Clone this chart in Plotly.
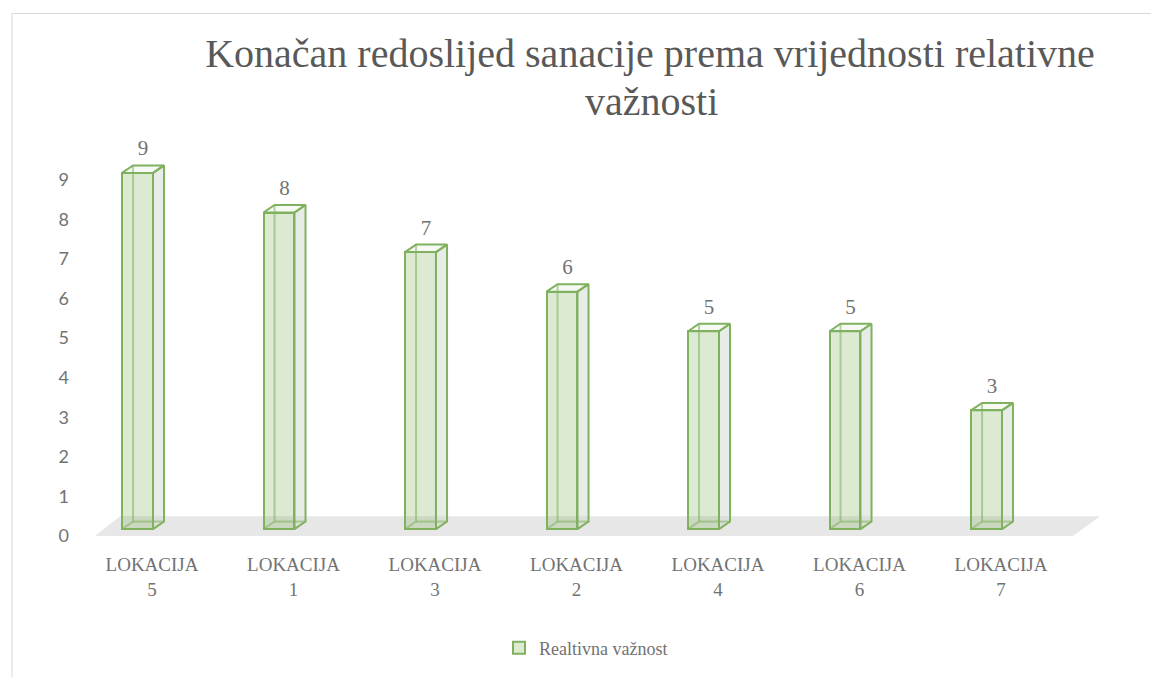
import plotly.graph_objects as go

# ---- data ----
categories = ["LOKACIJA<br>5", "LOKACIJA<br>1", "LOKACIJA<br>3", "LOKACIJA<br>2",
              "LOKACIJA<br>4", "LOKACIJA<br>6", "LOKACIJA<br>7"]
values = [9, 8, 7, 6, 5, 5, 3]
series_name = "Realtivna važnost"
y_ticks = [0, 1, 2, 3, 4, 5, 6, 7, 8, 9]
title_line1 = "Konačan redoslijed sanacije prema vrijednosti relativne"
title_line2 = "važnosti"

# ---- geometry (pseudo 3D) ----
positions = list(range(len(categories)))
BASE = 0.176      # front face base above floor front edge
WIDTH = 0.219     # front face width
OFF = -0.212      # front face left edge relative to slot
DX = 0.078        # depth in x
DY = 0.189        # depth in y
LABEL_GAP = 0.12

EDGE = "#7FB15F"
EDGE_LIGHT = "rgba(127,177,95,0.55)"
FILL = "rgba(112,173,71,0.25)"
SIDE = "rgba(205,212,200,0.45)"
TOP = "rgba(112,173,71,0.06)"
GREY = "#595959"
LGREY = "#727272"
SERIF = "Liberation Serif, Times New Roman, serif"

fig = go.Figure()

# hidden back edges & side / top faces
for p, v in zip(positions, values):
    xl = p + OFF
    xr = xl + WIDTH
    b = BASE
    t = BASE + v
    fig.add_trace(go.Scatter(
        x=[xr, xr, xr + DX, xr + DX, xr], y=[b, t, t + DY, b + DY, b],
        mode="lines", fill="toself", fillcolor=SIDE,
        line=dict(color=EDGE, width=2), showlegend=False, hoverinfo="skip"))
    fig.add_trace(go.Scatter(
        x=[xl, xr, xr + DX, xl + DX, xl], y=[t, t, t + DY, t + DY, t],
        mode="lines", fill="toself", fillcolor=TOP,
        line=dict(color=EDGE, width=2), showlegend=False, hoverinfo="skip"))
    fig.add_trace(go.Scatter(
        x=[xl, xl + DX, xl + DX, None, xl + DX, xr + DX],
        y=[b, b + DY, t + DY, None, b + DY, b + DY],
        mode="lines", line=dict(color=EDGE_LIGHT, width=2),
        showlegend=False, hoverinfo="skip"))

# front faces
fig.add_trace(go.Bar(
    x=positions, y=values, base=BASE, width=WIDTH, offset=OFF,
    name=series_name,
    marker=dict(color=FILL, line=dict(color=EDGE, width=2)),
    showlegend=True))

# data labels
fig.add_trace(go.Scatter(
    x=[p + OFF + WIDTH / 2 + DX / 2 for p in positions],
    y=[BASE + v + DY + LABEL_GAP for v in values],
    mode="text", text=[str(v) for v in values], textposition="top center",
    textfont=dict(family=SERIF, size=21, color=LGREY),
    showlegend=False, hoverinfo="skip"))

# floor
floor_path = "M -0.4028 0 L -0.226 0.5 L 6.6996 0.5 L 6.509 0 Z"
fig.add_shape(type="path", path=floor_path, xref="x", yref="y",
              fillcolor="#e7e7e7", line=dict(width=0), layer="below")

# chart border
fig.add_shape(type="rect", xref="paper", yref="paper",
              x0=-0.0826, x1=1.2, y0=-0.6, y1=1.311,
              line=dict(color="#d9d9d9", width=1), fillcolor="rgba(0,0,0,0)")

# second title line
fig.add_annotation(text=title_line2, xref="paper", yref="paper",
                   x=(651 - 95) / 1005, y=(548 - 101) / 408,
                   xanchor="center", yanchor="middle", showarrow=False,
                   font=dict(family=SERIF, size=40, color=GREY))

fig.update_layout(
    width=1151, height=677,
    paper_bgcolor="white", plot_bgcolor="rgba(0,0,0,0)",
    margin=dict(l=95, r=51, t=140, b=129),
    title=dict(text=title_line1, x=650 / 1151, xanchor="center",
               y=1 - 39 / 677, yanchor="top", yref="container",
               font=dict(family=SERIF, size=40, color=GREY)),
    xaxis=dict(range=[-0.4028, 6.6996], tickvals=positions, ticktext=categories,
               showgrid=False, zeroline=False, showline=False, ticks="",
               tickfont=dict(family=SERIF, size=19, color=LGREY),
               ticklabelstandoff=4),
    yaxis=dict(range=[-0.277, 10.008], tickvals=y_ticks,
               showgrid=False, zeroline=False, showline=False, ticks="",
               tickfont=dict(family="Lato", size=18, color=LGREY),
               ticklabelstandoff=25),
    legend=dict(orientation="h", x=(586 - 95) / 1005, xanchor="center", y=-0.245,
                yanchor="middle",
                font=dict(family=SERIF, size=18, color=LGREY)),
    bargap=0,
)

fig.write_html("out.html", config={"displayModeBar": False},
               post_script="document.body.style.margin='0px';")
